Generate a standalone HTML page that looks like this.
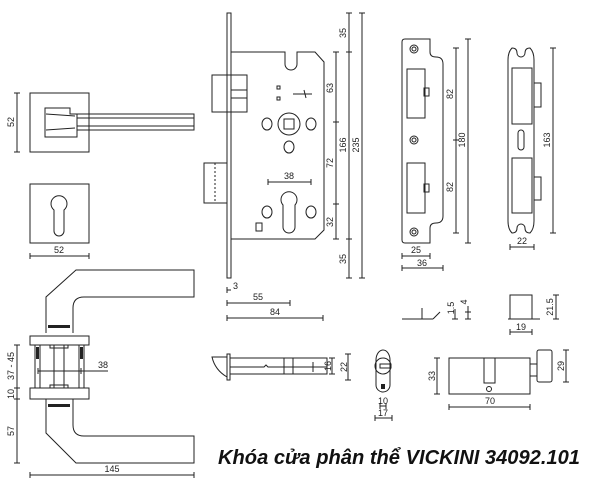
<!DOCTYPE html>
<html><head><meta charset="utf-8"><style>
html,body{margin:0;padding:0;background:#fff;width:600px;height:500px;overflow:hidden}
svg{display:block}
text{font-family:"Liberation Sans",sans-serif;font-size:9px;fill:#222}
</style></head><body>
<svg width="600" height="500" viewBox="0 0 600 500" xmlns="http://www.w3.org/2000/svg">
<g fill="none" stroke="#222" stroke-width="1">
<rect x="30" y="93" width="59" height="59"/>
<path d="M45 108 H70 V114 H194 V130 H77 V137 H45 Z"/>
<line x1="77" y1="114" x2="77" y2="130"/><line x1="77" y1="118" x2="194" y2="118"/><line x1="77" y1="126" x2="194" y2="126"/>
<path d="M46 114 L75 116 M46 130 L75 128"/>
<path d="M17 93 V152 M14 93 H20 M14 152 H20"/>
<rect x="30" y="184" width="59" height="59"/>
<path d="M54 210 A8 8 0 1 1 64 210 L64 231 A5 5 0 0 1 54 231 Z"/>
<path d="M30 256 H89 M30 253 V259 M89 253 V259"/>
<path d="M46 333 V297 L76 270 H194 V297 H84 Q73 297 73 308 V333"/>
<path d="M46 399 V433 L76 463 H194 V436 H84 Q73 436 73 425 V399"/>
<rect x="30" y="336" width="59" height="9"/>
<rect x="30" y="388" width="59" height="11"/>
<rect x="35" y="345" width="5" height="43"/><rect x="79" y="345" width="5" height="43"/>
<rect x="54" y="345" width="10" height="43"/>
<rect x="50" y="345" width="18" height="3"/><rect x="50" y="385" width="18" height="3"/>
<path d="M38 371 H108 M38 368 V374 M81 368 V374"/>
<path d="M17 345 V463 M14 345 H20 M14 388 H20 M14 399 H20 M14 463 H20"/>
<path d="M30 475 H194 M30 472 V478 M194 472 V478"/>
<rect x="227" y="13" width="4" height="265"/>
<path d="M231 52 H285 V64 A6 6 0 0 0 297 64 V52 H315 L324 62 V230 L315 239 H231"/>
<rect x="212" y="75" width="35" height="37"/><line x1="231" y1="90" x2="247" y2="90"/><line x1="231" y1="98" x2="247" y2="98"/>
<rect x="204" y="163" width="23" height="40"/><line x1="215" y1="163" x2="215" y2="203" stroke-dasharray="2 2"/>
<circle cx="289" cy="124" r="11"/><rect x="284" y="119" width="10" height="10"/>
<ellipse cx="267" cy="124" rx="5" ry="6"/><ellipse cx="311" cy="124" rx="5" ry="6"/><ellipse cx="289" cy="147" rx="5" ry="6"/>
<path d="M283 205 A8 8 0 1 1 295 205 L295 227 A6 6 0 0 1 283 227 Z"/>
<ellipse cx="267" cy="212" rx="5" ry="6"/><ellipse cx="311" cy="212" rx="5" ry="6"/>
<rect x="277" y="86" width="3" height="3"/><rect x="277" y="97" width="3" height="3"/>
<path d="M293 94 H312 M304 90 L306 98"/>
<path d="M256 223 H262 V231 H256 Z"/>
<path d="M268 182 H311 M268 179 V185 M311 179 V185"/>
<path d="M336 52 V239 M333 52 H339 M333 122 H339 M333 204 H339 M333 239 H339"/>
<path d="M349 13 V278 M346 13 H352 M346 52 H352 M346 239 H352 M346 278 H352"/>
<path d="M362 13 V278 M359 13 H365 M359 278 H365"/>
<path d="M227 290 H231 M227 287 V293"/>
<path d="M227 303 H290 M227 300 V306 M290 300 V306"/>
<path d="M227 318 H323 M227 315 V321 M323 315 V321"/>
<path d="M405 39 H430 V52 Q430 57 436 57 Q443 57 443 64 V216 Q443 223 436 223 Q430 223 430 228 V243 H405 Q402 243 402 240 V42 Q402 39 405 39 Z"/>
<circle cx="414" cy="49" r="4"/><circle cx="414" cy="49" r="2"/>
<circle cx="414" cy="140" r="4"/><circle cx="414" cy="140" r="2"/>
<circle cx="414" cy="232" r="4"/><circle cx="414" cy="232" r="2"/>
<rect x="407" y="69" width="18" height="49"/><rect x="424" y="88" width="5" height="8"/>
<rect x="407" y="163" width="18" height="50"/><rect x="424" y="184" width="5" height="8"/>
<path d="M456 48 V233 M453 48 H459 M453 140 H459 M453 233 H459"/>
<path d="M468 39 V243 M465 39 H471 M465 243 H471"/>
<path d="M402 256 H430 M402 253 V259 M430 253 V259"/>
<path d="M402 268 H443 M402 265 V271 M443 265 V271"/>
<path d="M512 48 Q508 52 508 60 V221 Q508 229 512 233 Q517 233 517 228 A4 4 0 0 1 525 228 Q525 233 530 233 Q534 229 534 221 V60 Q534 52 530 48 Q525 48 525 53 A4 4 0 0 1 517 53 Q517 48 512 48 Z"/>
<rect x="512" y="68" width="20" height="56"/><rect x="512" y="158" width="20" height="55"/>
<rect x="518" y="130" width="6" height="20" rx="3"/>
<path d="M534 83 H541 V107 H534 M534 177 H541 V200 H534"/>
<path d="M553 48 V233 M550 48 H556 M550 233 H556"/>
<path d="M510 247 H534 M510 244 V250 M534 244 V250"/>
<path d="M402 319 H433 M422 308 V319 M433 319 L440 312"/>
<path d="M455 309 V319 M452 319 H458 M468 306 V319 M465 312 H471 M465 319 H471"/>
<path d="M508 319 H540 M510 319 V295 H532 V319"/>
<path d="M556 295 V319 M553 295 H559 M553 319 H559"/>
<path d="M510 332 H532 M510 329 V335 M532 329 V335"/>
<rect x="227" y="354" width="3" height="26"/>
<path d="M230 358 H327 V374 H230 M230 367 H264 L266 365 L268 367 H327"/>
<path d="M227 357 H212 Q215 370 227 377"/>
<rect x="284" y="358" width="9" height="16"/><path d="M313 362 V372"/>
<path d="M332 358 V374 M329 358 H335 M329 374 H335"/>
<path d="M348 354 V380 M345 354 H351 M345 380 H351"/>
<path d="M376 360 A7 10 0 1 1 390 360 V385 A7 7 0 0 1 376 385 Z"/>
<circle cx="383" cy="366" r="8"/><rect x="380" y="364" width="11" height="4"/>
<path d="M380 406 H386 M380 403 V409 M386 403 V409"/>
<path d="M375 418 H392 M375 415 V421 M392 415 V421"/>
<rect x="449" y="358" width="81" height="36"/>
<rect x="484" y="358" width="11" height="25"/><circle cx="489" cy="389" r="2.5"/>
<path d="M530 364 H537 V376 H530"/><rect x="537" y="350" width="15" height="32" rx="2"/>
<path d="M437 358 V394 M434 358 H440 M434 394 H440"/>
<path d="M566 350 V382 M563 350 H569 M563 382 H569"/>
<path d="M449 407 H530 M449 404 V410 M530 404 V410"/>
</g>
<g fill="#222">
<rect x="48" y="325" width="22" height="3"/><rect x="48" y="404" width="22" height="3"/>
<rect x="36" y="347" width="3" height="12"/><rect x="80" y="347" width="3" height="12"/>
<rect x="381" y="384" width="4" height="5"/>
</g>
<text x="59" y="253" text-anchor="middle">52</text>
<text transform="translate(14 122) rotate(-90)" text-anchor="middle">52</text>
<text x="103" y="368" text-anchor="middle">38</text>
<text transform="translate(14 366) rotate(-90)" text-anchor="middle">37 - 45</text>
<text transform="translate(14 394) rotate(-90)" text-anchor="middle">10</text>
<text transform="translate(14 431) rotate(-90)" text-anchor="middle">57</text>
<text x="112" y="472" text-anchor="middle">145</text>
<text x="289" y="179" text-anchor="middle">38</text>
<text transform="translate(333 88) rotate(-90)" text-anchor="middle">63</text>
<text transform="translate(333 163) rotate(-90)" text-anchor="middle">72</text>
<text transform="translate(333 222) rotate(-90)" text-anchor="middle">32</text>
<text transform="translate(346 33) rotate(-90)" text-anchor="middle">35</text>
<text transform="translate(346 145) rotate(-90)" text-anchor="middle">166</text>
<text transform="translate(346 259) rotate(-90)" text-anchor="middle">35</text>
<text transform="translate(359 145) rotate(-90)" text-anchor="middle">235</text>
<text x="233" y="289">3</text>
<text x="258" y="300" text-anchor="middle">55</text>
<text x="275" y="315" text-anchor="middle">84</text>
<text transform="translate(453 94) rotate(-90)" text-anchor="middle">82</text>
<text transform="translate(453 187) rotate(-90)" text-anchor="middle">82</text>
<text transform="translate(465 140) rotate(-90)" text-anchor="middle">180</text>
<text x="416" y="253" text-anchor="middle">25</text>
<text x="422" y="266" text-anchor="middle">36</text>
<text transform="translate(550 140) rotate(-90)" text-anchor="middle">163</text>
<text x="522" y="244" text-anchor="middle">22</text>
<text transform="translate(454 308) rotate(-90)" text-anchor="middle">1.5</text>
<text transform="translate(467 302) rotate(-90)" text-anchor="middle">4</text>
<text transform="translate(553 307) rotate(-90)" text-anchor="middle">21.5</text>
<text x="521" y="330" text-anchor="middle">19</text>
<text transform="translate(331 366) rotate(-90)" text-anchor="middle">16</text>
<text transform="translate(347 367) rotate(-90)" text-anchor="middle">22</text>
<text x="383" y="404" text-anchor="middle">10</text>
<text x="383" y="416" text-anchor="middle">17</text>
<text transform="translate(435 376) rotate(-90)" text-anchor="middle">33</text>
<text transform="translate(564 366) rotate(-90)" text-anchor="middle">29</text>
<text x="490" y="404" text-anchor="middle">70</text>
<text x="218" y="464" textLength="362" lengthAdjust="spacingAndGlyphs" style="font-size:20px;font-style:italic;font-weight:bold;fill:#111">Khóa cửa phân thể VICKINI 34092.101</text>
</svg>
</body></html>
